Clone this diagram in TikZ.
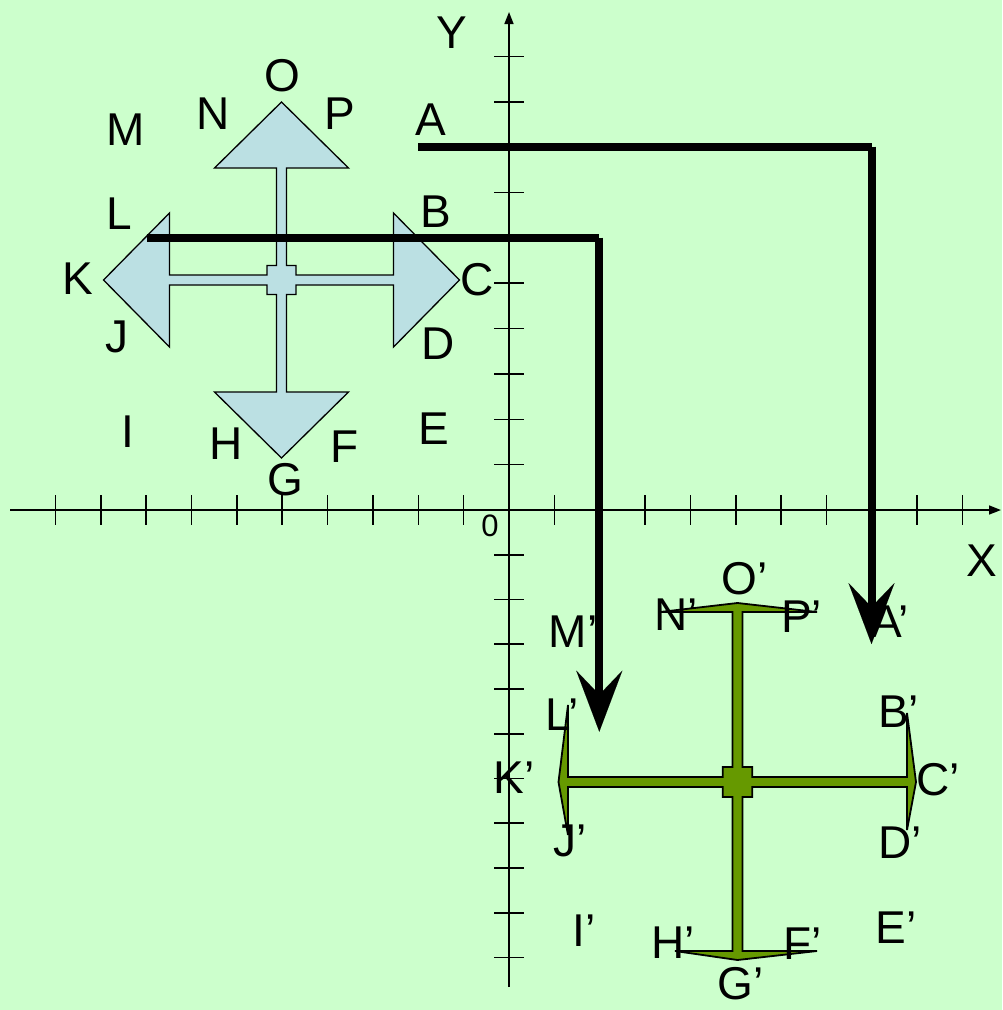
\documentclass[tikz,border=0pt]{standalone}
\usepackage{fontspec}
\setmainfont{Liberation Sans}
\usetikzlibrary{arrows.meta}
\definecolor{bgc}{HTML}{CCFFCC}
\definecolor{lightblue}{HTML}{BBE0E3}
\definecolor{olivegreen}{HTML}{669900}
\begin{document}
\begin{tikzpicture}[x=1pt,y=-1pt,
  lbl/.style={font=\fontsize{46}{50}\selectfont, inner sep=0pt, anchor=center},
  smalllbl/.style={font=\fontsize{31}{34}\selectfont, inner sep=0pt, anchor=center},
  axisline/.style={line width=1.6pt, -{Triangle[length=12pt,width=9pt]}},
  tickline/.style={line width=1.6pt},
  bluefig/.style={fill=lightblue, draw=black, line width=1.3pt, line join=miter},
  greenfig/.style={fill=olivegreen, draw=black, line width=1.8pt, line join=miter},
  moveline/.style={line width=8pt, line cap=butt},
  movearrow/.style={line width=8pt, line cap=butt, -{Stealth[length=61pt,width=46pt,inset=24pt,line width=0.01pt]}},
]
% background / bounding box
\fill[bgc] (0,0) rectangle (1002,1010);
\useasboundingbox (0,0) rectangle (1002,1010);

% axes
\coordinate (xs) at (10,510);
\coordinate (xe) at (1001,510);
\coordinate (ys) at (509,987);
\coordinate (ye) at (509,12);
\draw[axisline] (xs) -- (xe);
\draw[axisline] (ys) -- (ye);
\foreach \k in {1,...,10}{
  \draw[tickline] ({509-45.35*\k},495) -- ++(0,30);
  \draw[tickline] ({509+45.35*\k},495) -- ++(0,30);
  \draw[tickline] (494,{510-45.35*\k}) -- ++(30,0);
  \draw[tickline] (494,{510+44.75*\k}) -- ++(30,0);
}

% blue figure
\begin{scope}[shift={(281.5,280)}]
\draw[bluefig] (0,-178) -- (67,-112) -- (5,-112) -- (5,-14.5) -- (14.5,-14.5) -- (14.5,-5)
  -- (112,-5) -- (112,-67) -- (178,0) -- (112,67) -- (112,5) -- (14.5,5) -- (14.5,14.5)
  -- (5,14.5) -- (5,112) -- (67,112) -- (0,178) -- (-67,112) -- (-5,112) -- (-5,14.5)
  -- (-14.5,14.5) -- (-14.5,5) -- (-112,5) -- (-112,67) -- (-178,0) -- (-112,-67)
  -- (-112,-5) -- (-14.5,-5) -- (-14.5,-14.5) -- (-5,-14.5) -- (-5,-112) -- (-67,-112) -- cycle;
\end{scope}

% green figure
\draw[greenfig] (737.5,603) -- (817,612) -- (742.5,612) -- (742.5,767) -- (752.3,767)
  -- (752.3,777) -- (907,777) -- (907,713) -- (916,782) -- (907,830) -- (907,787)
  -- (752.3,787) -- (752.3,797) -- (742.5,797) -- (742.5,951) -- (817,951) -- (737.5,960)
  -- (675,951) -- (732.5,951) -- (732.5,797) -- (722.7,797) -- (722.7,787) -- (568,787)
  -- (568,835) -- (558.5,782) -- (568,705) -- (568,777) -- (722.7,777) -- (722.7,767)
  -- (732.5,767) -- (732.5,612) -- (660,612) -- cycle;

% movement arrows
\coordinate (mA) at (418,146.7);
\coordinate (cA) at (871.5,146.7);
\coordinate (tA) at (871.5,644);
\coordinate (mL) at (146.5,237.5);
\coordinate (cL) at (599.3,237.5);
\coordinate (tL) at (599.3,731.7);
\draw[moveline] (mA) -- (cA);
\draw[movearrow] (cA) -- (tA);
\draw[moveline] (mL) -- (cL);
\draw[movearrow] (cL) -- (tL);

% labels
\node[lbl] (lY) at (452,33) {Y};
\node[lbl] (lX) at (981.5,561) {X};
\node[smalllbl] (l0) at (490,526) {0};
\node[lbl] (lO) at (282,75.5) {O};
\node[lbl] (lN) at (213.5,114) {N};
\node[lbl] (lP) at (340,113.5) {P};
\node[lbl] (lM) at (126,130) {M};
\node[lbl] (lA) at (430.5,120) {A};
\node[lbl] (lL) at (119.5,214) {L};
\node[lbl] (lB) at (436,211.5) {B};
\node[lbl] (lK) at (77.5,278.5) {K};
\node[lbl] (lC) at (477.5,280) {C};
\node[lbl] (lJ) at (117,337) {J};
\node[lbl] (lD) at (438,343.5) {D};
\node[lbl] (lI) at (127.5,431.5) {I};
\node[lbl] (lH) at (226,444) {H};
\node[lbl] (lE) at (434,428.5) {E};
\node[lbl] (lF) at (345,446.5) {F};
\node[lbl] (lG) at (285,480) {G};

\node[lbl] (lOp) at (744.5,579) {O’};
\node[lbl] (lNp) at (676,614.5) {N’};
\node[lbl] (lPp) at (801.5,617) {P’};
\node[lbl] (lMp) at (573,632) {M’};
\node[lbl] (lAp) at (890,622) {A’};
\node[lbl] (lLp) at (562,715) {L’};
\node[lbl] (lBp) at (898.5,711.5) {B’};
\node[lbl] (lKp) at (514,777.5) {K’};
\node[lbl] (lCp) at (938,779.5) {C’};
\node[lbl] (lJp) at (570.5,840.5) {J’};
\node[lbl] (lDp) at (900,842.5) {D’};
\node[lbl] (lIp) at (584,930.5) {I’};
\node[lbl] (lHp) at (673,942.5) {H’};
\node[lbl] (lEp) at (896,927.5) {E’};
\node[lbl] (lFp) at (802.5,943.5) {F’};
\node[lbl] (lGp) at (740.5,983.5) {G’};
\end{tikzpicture}
\end{document}
